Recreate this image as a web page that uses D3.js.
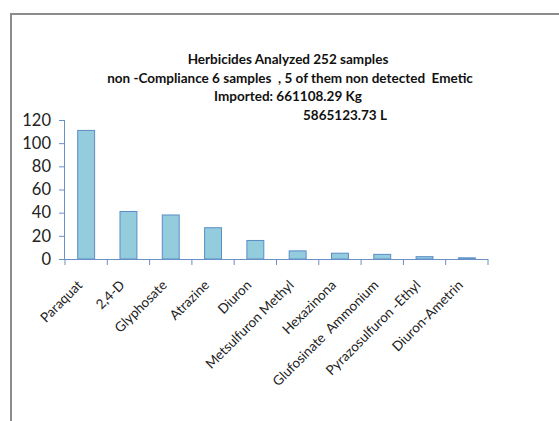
<!DOCTYPE html>
<html><head><meta charset="utf-8">
<script src="https://cdn.jsdelivr.net/npm/d3@7"></script>
<style>html,body{margin:0;padding:0;background:#fff;}svg{display:block;}</style>
</head><body>
<script>
const categories = ["Paraquat","2,4-D","Glyphosate","Atrazine","Diuron","Metsulfuron Methyl","Hexazinona","Glufosinate  Ammonium","Pyrazosulfuron -Ethyl","Diuron-Ametrin"];
const values = [111,41,38,27,16,7,5,4,2,1];
const yTicks = [0,20,40,60,80,100,120];
const titleLines = ["Herbicides Analyzed 252 samples","non -Compliance 6 samples  , 5 of them non detected  Emetic","Imported: 661108.29 Kg","5865123.73 L"];

const W=559,H=421;
const svg=d3.select("body").append("svg").attr("width",W).attr("height",H);
const font="Lato, 'Open Sans', sans-serif";

// frame
svg.append("path").attr("d","M11,421 V14 H559").attr("fill","none").attr("stroke","#8c8c8c").attr("stroke-width",2);

const x=d3.scaleBand().domain(categories).range([65,488]).paddingInner(0.6).paddingOuter(0.3);
const y=d3.scaleLinear().domain([0,120]).range([259,120]);
const axisColor="#6b8fc7";

// bars
svg.append("g").selectAll("rect").data(values).join("rect")
  .attr("x",(d,i)=>x(categories[i])).attr("width",x.bandwidth())
  .attr("y",d=>y(d)).attr("height",d=>y(0)-y(d))
  .attr("fill","#93cddd").attr("stroke","#5b8cc8").attr("stroke-width",1);

// y axis
const ya=svg.append("g").attr("transform","translate(65,0)").call(d3.axisLeft(y).tickValues(yTicks).tickSize(6).tickPadding(8));
ya.select(".domain").attr("stroke",axisColor).attr("d","M-0.5,"+y(120)+"V"+y(0));
ya.selectAll(".tick line").attr("stroke",axisColor);
ya.selectAll(".tick text").attr("font-family",font).attr("font-size",16.5).attr("fill","#222");

// x axis
const step=x.step();
const bounds=categories.map(c=>x(c)-(step-x.bandwidth())/2).concat([488]);
const xg=svg.append("g");
xg.append("line").attr("x1",65).attr("x2",488).attr("y1",y(0)+0.5).attr("y2",y(0)+0.5).attr("stroke",axisColor);
xg.selectAll("line.t").data(bounds).join("line").attr("class","t")
  .attr("x1",d=>d).attr("x2",d=>d).attr("y1",y(0)).attr("y2",y(0)+6).attr("stroke",axisColor);
xg.selectAll("text").data(categories).join("text")
  .attr("transform",d=>`translate(${x(d)+x.bandwidth()/2-3},${y(0)+27}) rotate(-45)`)
  .attr("text-anchor","end").attr("font-family",font).attr("font-size",13.5).attr("fill","#222")
  .style("white-space","pre").text(d=>d);

// title
const tx=[288,290,288,345];
svg.append("g").selectAll("text").data(titleLines).join("text")
  .attr("x",(d,i)=>tx[i]).attr("y",(d,i)=>64+i*18.5).attr("text-anchor","middle")
  .attr("font-family",font).attr("font-weight","bold").attr("font-size",13.5).attr("fill","#111")
  .style("white-space","pre").text(d=>d);
</script>
</body></html>
